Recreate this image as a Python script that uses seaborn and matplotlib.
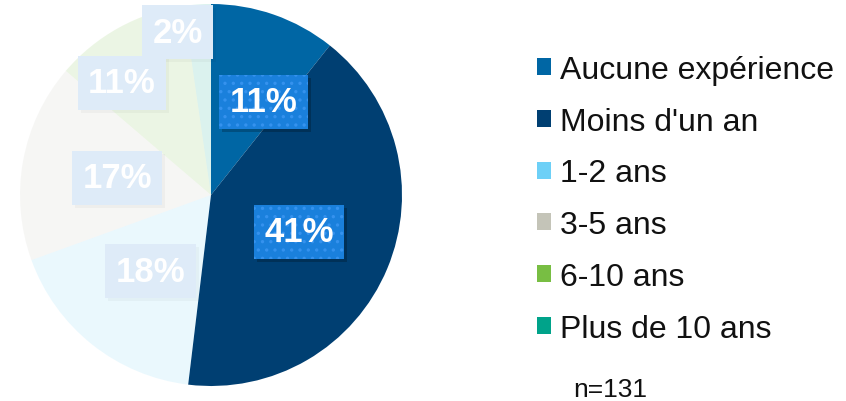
import matplotlib
matplotlib.use('Agg')
import matplotlib.pyplot as plt
from matplotlib.patches import Patch, Rectangle
import seaborn as sns
import numpy as np

sns.set_theme(style='white')
plt.rcParams['font.family'] = ['Liberation Sans', 'DejaVu Sans']
plt.rcParams['hatch.linewidth'] = 1.2

# data: respondents by years of experience (n=131)
categories = ['Aucune expérience', "Moins d'un an", '1-2 ans', '3-5 ans', '6-10 ans', 'Plus de 10 ans']
counts = [14, 54, 23, 22, 15, 3]
pct_labels = ['11%', '41%', '18%', '17%', '11%', '2%']
highlighted = [True, True, False, False, False, False]
n_total = 131

colors = sns.color_palette(['#0066A4', '#003F72', '#6DD0F7', '#C4C4B8', '#78BE43', '#00A38A'])
faded_alpha = 0.14

# label placement (radius fraction, angle shift in degrees)
label_r = [0.56, 0.50, 0.51, 0.50, 0.75, 0.87]
label_shift = [-10, 0, 0, 0, 9.5, 7.5]

fig = plt.figure(figsize=(8.46, 4.02), dpi=100)
ax = fig.add_axes([20 / 846, 15 / 402, 382 / 846, 382 / 402])

wedges, _ = ax.pie(counts, colors=colors, startangle=90, counterclock=False,
                   wedgeprops=dict(linewidth=0))
for w, hl in zip(wedges, highlighted):
    if not hl:
        w.set_alpha(faded_alpha)
ax.set_xlim(-1, 1)
ax.set_ylim(-1, 1)
ax.set_aspect('equal')
ax.axis('off')

labels = []
for w, lab, r, sh, hl in zip(wedges, pct_labels, label_r, label_shift, highlighted):
    mid = np.deg2rad((w.theta1 + w.theta2) / 2 + sh)
    x, y = r * np.cos(mid), r * np.sin(mid)
    if hl:
        box = dict(boxstyle='square,pad=0.3', lw=0, fc='#1A80DC', ec='#3592EE', hatch='..')
    else:
        box = dict(boxstyle='square,pad=0.3', lw=0, fc='#DEEBF8', ec='none')
    t = ax.text(x, y, lab, ha='center', va='center', fontsize=25, fontweight='bold',
                color='white', zorder=5, bbox=box)
    labels.append((t, hl))

# drop shadows under the label boxes
fig.canvas.draw()
for t, hl in labels:
    bb = t.get_bbox_patch().get_window_extent()
    ax.add_patch(Rectangle((bb.x0 + 3, bb.y0 - 3), bb.width, bb.height, transform=None,
                           fc='black', lw=0, alpha=0.22 if hl else 0.03, zorder=4))

handles = [Patch(facecolor=c, edgecolor='none') for c in colors]
fig.legend(handles, categories, loc='upper left', bbox_to_anchor=(537 / 846, 1 - 56 / 402),
           frameon=False, fontsize=23, handlelength=0.44, handleheight=0.44,
           handletextpad=0.28, labelspacing=0.68, borderpad=0, borderaxespad=0,
           labelcolor='#111111')

fig.text(573 / 846, 1 - 397 / 402, f'n={n_total}', fontsize=19, color='#111111',
         ha='left', va='baseline')

fig.savefig('out.png', dpi=100)
plt.close(fig)
